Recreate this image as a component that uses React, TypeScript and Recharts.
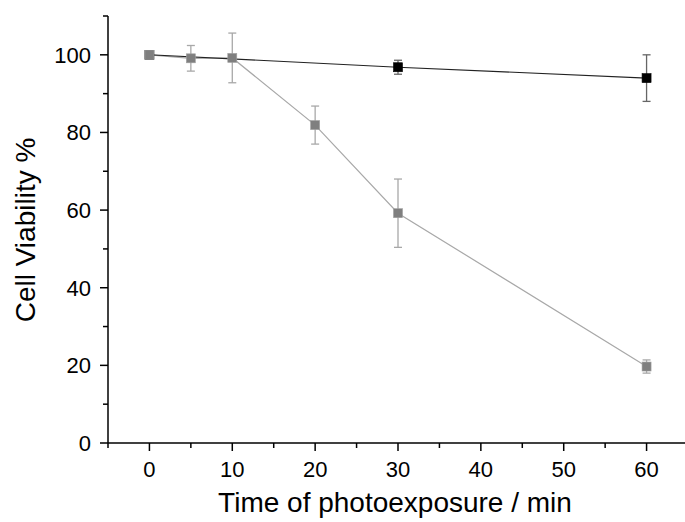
import React from 'react';
import { LineChart, Line, XAxis, YAxis, ErrorBar, Label } from 'recharts';

// time points (min) and viability (%)
const grayTimes = [0, 5, 10, 20, 30, 60];
const grayViability = [100, 99.1, 99.2, 81.9, 59.2, 19.7];
const grayError = [0, 3.3, 6.4, 4.9, 8.8, 1.7];

const blackTimes = [0, 30, 60];
const blackViability = [100, 96.8, 94];
const blackError = [0, 1.8, 6];

const xTicks = [-5, 0, 5, 10, 15, 20, 25, 30, 35, 40, 45, 50, 55, 60, 65];
const yTicks = [0, 10, 20, 30, 40, 50, 60, 70, 80, 90, 100, 110];

const xTitle = 'Time of photoexposure / min';
const yTitle = 'Cell Viability %';

const grayData = grayTimes.map((t, i) => ({ t, v: grayViability[i], e: grayError[i] }));
const blackData = blackTimes.map((t, i) => ({ t, v: blackViability[i], e: blackError[i] }));

const FONT = '"Liberation Sans", Arial, sans-serif';

const XTick = (props: any) => {
  const { x, y, payload } = props;
  const major = payload.value % 10 === 0;
  return (
    <g>
      <line x1={x} y1={y} x2={x} y2={y + (major ? 8 : 5)} stroke="#000" strokeWidth={1.5} />
      {major && (
        <text x={x} y={y + 34} textAnchor="middle" fontSize={22} fontFamily={FONT} fill="#000">
          {payload.value}
        </text>
      )}
    </g>
  );
};

const YTick = (props: any) => {
  const { x, y, payload } = props;
  const major = payload.value % 20 === 0;
  return (
    <g>
      <line x1={x - (major ? 8 : 5)} y1={y} x2={x} y2={y} stroke="#000" strokeWidth={1.5} />
      {major && (
        <text x={x - 17} y={y + 8} textAnchor="end" fontSize={22} fontFamily={FONT} fill="#000">
          {payload.value}
        </text>
      )}
    </g>
  );
};

const square = (fill: string, stroke: string) => (props: any) => {
  const { cx, cy, index } = props;
  if (cx == null || cy == null) return <g key={index} />;
  return <rect key={index} x={cx - 4.5} y={cy - 4.5} width={9} height={9} fill={fill} stroke={stroke} strokeWidth={0.6} />;
};

const App: React.FC = () => {
  return (
    <div style={{ position: 'fixed', left: 0, top: 0, width: 685, height: 522, overflow: 'hidden', background: '#fff' }}>
      <LineChart width={730} height={522} margin={{ top: 16, right: 42, bottom: 0, left: 0 }}>
        <XAxis
          type="number"
          dataKey="t"
          domain={[-5, 65]}
          ticks={xTicks}
          interval={0}
          allowDataOverflow
          height={79}
          tickLine={false}
          tickSize={0}
          tickMargin={0}
          axisLine={{ stroke: '#000', strokeWidth: 1.5 }}
          tick={<XTick />}
        >
          <Label
            content={() => (
              <text x={395} y={512} textAnchor="middle" fontSize={28} fontFamily={FONT} fill="#000">
                {xTitle}
              </text>
            )}
          />
        </XAxis>
        <YAxis
          type="number"
          domain={[0, 110]}
          ticks={yTicks}
          interval={0}
          allowDataOverflow
          width={108}
          tickLine={false}
          tickSize={0}
          tickMargin={0}
          axisLine={{ stroke: '#000', strokeWidth: 1.5 }}
          tick={<YTick />}
        >
          <Label
            content={() => (
              <text
                transform="translate(35,230) rotate(-90)"
                textAnchor="middle"
                fontSize={28}
                fontFamily={FONT}
                fill="#000"
              >
                {yTitle}
              </text>
            )}
          />
        </YAxis>

        {/* irradiated series: line + error bars */}
        <Line
          data={grayData}
          dataKey="v"
          stroke="#a8a8a8"
          strokeWidth={1.2}
          dot={false}
          activeDot={false}
          isAnimationActive={false}
        >
          <ErrorBar dataKey="e" width={4} stroke="#a8a8a8" strokeWidth={1.3} direction="y" />
        </Line>

        {/* dark control series */}
        <Line
          data={blackData}
          dataKey="v"
          stroke="#222"
          strokeWidth={1.1}
          dot={square('#000', '#000')}
          activeDot={false}
          isAnimationActive={false}
        >
          <ErrorBar dataKey="e" width={4} stroke="#666" strokeWidth={1.3} direction="y" />
        </Line>

        {/* gray markers on top */}
        <Line
          data={grayData}
          dataKey="v"
          stroke="none"
          dot={square('#7f7f7f', '#a0a0a0')}
          activeDot={false}
          isAnimationActive={false}
        />
      </LineChart>
    </div>
  );
};

export default App;
